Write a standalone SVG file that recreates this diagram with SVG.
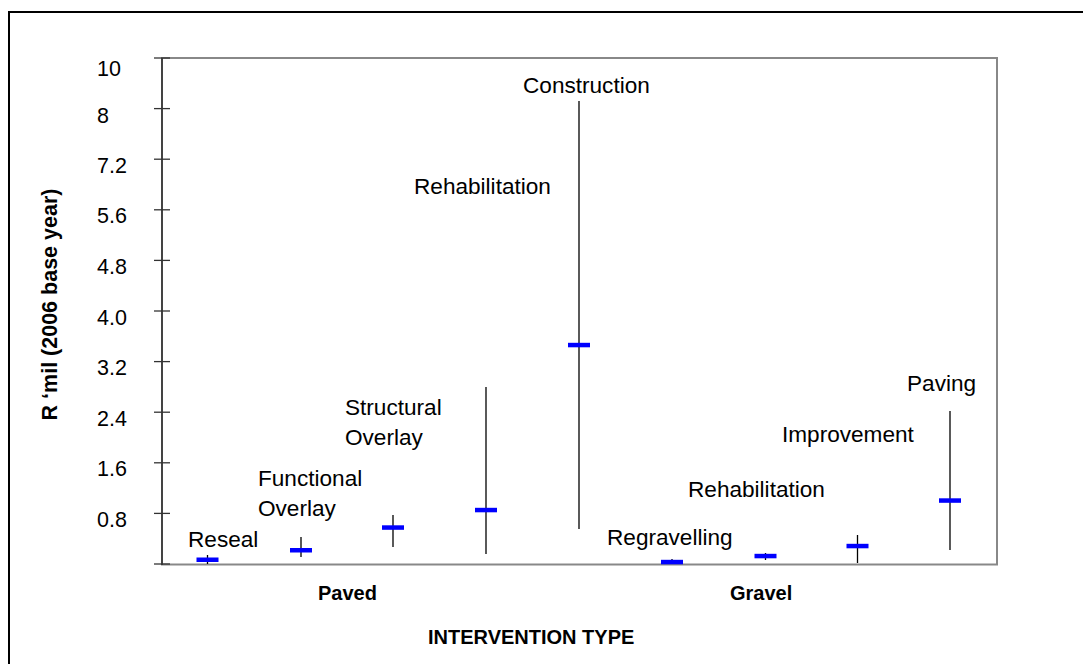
<svg xmlns="http://www.w3.org/2000/svg" width="1083" height="664" viewBox="0 0 1083 664">
<style>
.lbl{font-family:"Liberation Sans",Arial,sans-serif;font-size:22.6px;fill:#000}
.tick{font-family:"Liberation Sans",Arial,sans-serif;font-size:21.5px;fill:#000}
.bold{font-family:"Liberation Sans",Arial,sans-serif;font-size:20px;font-weight:bold;fill:#000}
.bar{fill:#0000ff}
.wh{stroke:#000;stroke-width:1.3}
.tk{stroke:#333;stroke-width:1.3}
</style>
<rect x="0" y="0" width="1083" height="664" fill="#fff"/>
<rect x="9" y="12" width="1100" height="700" fill="none" stroke="#000" stroke-width="2"/>
<g id="plot-area">
<rect x="162" y="58" width="835" height="506.5" fill="none" stroke="#888" stroke-width="2"/>
<line x1="162" y1="58" x2="162" y2="565" stroke="#333" stroke-width="1.6"/>
</g>
<g id="y-axis">
<line class="tk" x1="154" y1="58" x2="170" y2="58"/>
<line class="tk" x1="154" y1="108.6" x2="170" y2="108.6"/>
<line class="tk" x1="154" y1="159.2" x2="170" y2="159.2"/>
<line class="tk" x1="154" y1="209.8" x2="170" y2="209.8"/>
<line class="tk" x1="154" y1="260.4" x2="170" y2="260.4"/>
<line class="tk" x1="154" y1="311" x2="170" y2="311"/>
<line class="tk" x1="154" y1="361.6" x2="170" y2="361.6"/>
<line class="tk" x1="154" y1="412.2" x2="170" y2="412.2"/>
<line class="tk" x1="154" y1="462.8" x2="170" y2="462.8"/>
<line class="tk" x1="154" y1="513.4" x2="170" y2="513.4"/>
<line class="tk" x1="154" y1="564" x2="170" y2="564"/>
<text class="tick" x="97" y="76">10</text>
<text class="tick" x="97" y="123">8</text>
<text class="tick" x="97" y="173">7.2</text>
<text class="tick" x="97" y="223">5.6</text>
<text class="tick" x="97" y="274">4.8</text>
<text class="tick" x="97" y="325">4.0</text>
<text class="tick" x="97" y="375">3.2</text>
<text class="tick" x="97" y="426">2.4</text>
<text class="tick" x="97" y="476">1.6</text>
<text class="tick" x="97" y="527">0.8</text>
<text class="bold" transform="translate(57,304.5) rotate(-90)" text-anchor="middle" style="font-size:21.5px">R ‘mil (2006 base year)</text>
</g>
<g id="x-axis">
<text class="bold" x="318" y="600">Paved</text>
<text class="bold" x="730" y="600">Gravel</text>
<text class="bold" x="428" y="644">INTERVENTION TYPE</text>
</g>
<g id="connectors">
<line class="wh" x1="207.5" y1="555" x2="207.5" y2="564"/>
<line class="wh" x1="301" y1="537" x2="301" y2="557"/>
<line class="wh" x1="393" y1="515" x2="393" y2="547"/>
<line class="wh" x1="486" y1="387" x2="486" y2="554"/>
<line class="wh" x1="579" y1="101" x2="579" y2="529"/>
<line class="wh" x1="672" y1="559" x2="672" y2="564"/>
<line class="wh" x1="765.5" y1="553" x2="765.5" y2="560"/>
<line class="wh" x1="857.5" y1="535" x2="857.5" y2="563"/>
<line class="wh" x1="950" y1="411" x2="950" y2="550"/>
</g>
<g id="reseal">
<rect class="bar" x="196.5" y="557.5" width="22" height="4.5"/>
<text class="lbl" x="188" y="547">Reseal</text>
</g>
<g id="functional-overlay">
<rect class="bar" x="290" y="548" width="22" height="4.5"/>
<text class="lbl" x="258" y="486">Functional</text>
<text class="lbl" x="258" y="516">Overlay</text>
</g>
<g id="structural-overlay">
<rect class="bar" x="382" y="525.3" width="22" height="4.5"/>
<text class="lbl" x="345" y="415">Structural</text>
<text class="lbl" x="345" y="445">Overlay</text>
</g>
<g id="rehabilitation-paved">
<rect class="bar" x="475" y="507.8" width="22" height="4.5"/>
<text class="lbl" x="414" y="194">Rehabilitation</text>
</g>
<g id="construction">
<rect class="bar" x="568" y="342.8" width="22" height="4.5"/>
<text class="lbl" x="523" y="93">Construction</text>
</g>
<g id="regravelling">
<rect class="bar" x="661" y="559.8" width="22" height="4.5"/>
<text class="lbl" x="607" y="545">Regravelling</text>
</g>
<g id="rehabilitation-gravel">
<rect class="bar" x="754.5" y="553.8" width="22" height="4.5"/>
<text class="lbl" x="688" y="497">Rehabilitation</text>
</g>
<g id="improvement">
<rect class="bar" x="846.5" y="543.8" width="22" height="4.5"/>
<text class="lbl" x="782" y="442">Improvement</text>
</g>
<g id="paving">
<rect class="bar" x="939" y="498.3" width="22" height="4.5"/>
<text class="lbl" x="907" y="391">Paving</text>
</g>
</svg>
